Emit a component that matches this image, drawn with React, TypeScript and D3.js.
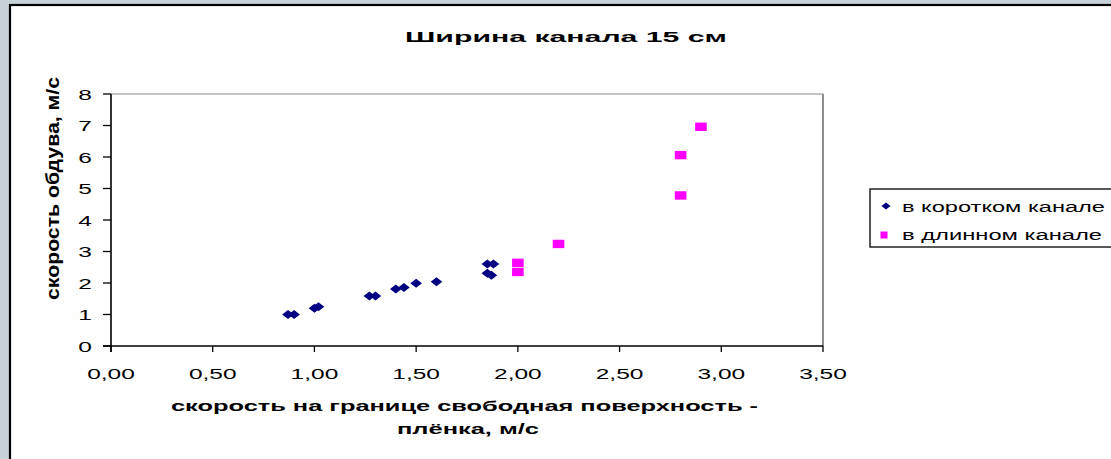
import React from "react";
import * as d3 from "d3";

const shortX = [0.87, 0.9, 1.0, 1.02, 1.27, 1.3, 1.4, 1.44, 1.5, 1.6, 1.85, 1.88, 1.85, 1.87];
const shortY = [1.0, 1.0, 1.2, 1.25, 1.59, 1.59, 1.81, 1.86, 1.99, 2.04, 2.6, 2.6, 2.31, 2.25];
const longX = [2.0, 2.0, 2.2, 2.8, 2.8, 2.9];
const longY = [2.64, 2.35, 3.24, 4.78, 6.06, 6.96];
const xTicks = [0, 0.5, 1, 1.5, 2, 2.5, 3, 3.5];
const yTicks = [0, 1, 2, 3, 4, 5, 6, 7, 8];
const seriesNames = ["в коротком канале", "в длинном канале"];
const title = "Ширина канала 15 см";
const xTitle1 = "скорость на границе свободная поверхность  -";
const xTitle2 = "плёнка, м/с";
const yTitle = "скорость обдува, м/с";

const W = 1111;
const H = 459;
const FONT = "'Liberation Sans', Arial, sans-serif";

function diamondPath(hw: number, hh: number) {
  const p = d3.path();
  p.moveTo(0, -hh);
  p.lineTo(hw, 0);
  p.lineTo(0, hh);
  p.lineTo(-hw, 0);
  p.closePath();
  return p.toString();
}

export default function App() {
  const x = d3.scaleLinear().domain([0, 3.5]).range([111, 823]);
  const y = d3.scaleLinear().domain([0, 8]).range([346, 94]);
  const dMark = diamondPath(5.8, 4.5);
  const dLeg = diamondPath(4.6, 3.5);
  const fmt = (v: number) => d3.format(".2f")(v).replace(".", ",");
  const SX = 1.58;

  return (
    <svg
      width={W}
      height={H}
      style={{ position: "absolute", left: 0, top: 0, display: "block" }}
      fontFamily={FONT}
    >
      <rect x={0} y={0} width={W} height={H} fill="#c7d1d8" />
      <rect x={10} y={5} width={W + 20} height={H + 20} fill="#ffffff" stroke="#000" strokeWidth={2.2} />
      <text
        x={405}
        y={42}
        fontSize={15.5}
        fontWeight="bold"
        fill="#000"
        textLength={322}
        lengthAdjust="spacingAndGlyphs"
      >
        {title}
      </text>
      {/* plot frame */}
      <line x1={x(0)} x2={x(3.5)} y1={y(8)} y2={y(8)} stroke="#8c8c8c" strokeWidth={1.2} />
      <line x1={x(3.5)} x2={x(3.5)} y1={y(8)} y2={y(0)} stroke="#8c8c8c" strokeWidth={2} />
      <line x1={x(0)} x2={x(0)} y1={y(8)} y2={y(0) + 6} stroke="#000" strokeWidth={1.6} />
      <line x1={x(0) - 8} x2={x(3.5)} y1={y(0)} y2={y(0)} stroke="#000" strokeWidth={1.6} />
      {yTicks.map((t) => (
        <g key={"y" + t}>
          <line x1={x(0) - 8} x2={x(0)} y1={y(t)} y2={y(t)} stroke="#000" strokeWidth={1.3} />
          <text
            transform={`translate(92,${y(t) + 5.6}) scale(${SX},1)`}
            textAnchor="end"
            fontSize={15.5}
            fill="#000"
          >
            {t}
          </text>
        </g>
      ))}
      {xTicks.map((t) => (
        <g key={"x" + t}>
          <line x1={x(t)} x2={x(t)} y1={y(0)} y2={y(0) + 6} stroke="#000" strokeWidth={1.3} />
          <text
            transform={`translate(${x(t)},378.5) scale(${SX},1)`}
            textAnchor="middle"
            fontSize={15.5}
            fill="#000"
          >
            {fmt(t)}
          </text>
        </g>
      ))}
      <text
        x={171}
        y={411}
        fontSize={14.5}
        fontWeight="bold"
        fill="#000"
        textLength={587}
        lengthAdjust="spacingAndGlyphs"
      >
        {xTitle1}
      </text>
      <text
        x={397}
        y={434}
        fontSize={14.5}
        fontWeight="bold"
        fill="#000"
        textLength={142}
        lengthAdjust="spacingAndGlyphs"
      >
        {xTitle2}
      </text>
      <text
        transform={`translate(59,300) rotate(-90)`}
        fontSize={18}
        fontWeight="bold"
        fill="#000"
        textLength={223}
        lengthAdjust="spacingAndGlyphs"
      >
        {yTitle}
      </text>
      {shortX.map((v, i) => (
        <path key={"s" + i} d={dMark} transform={`translate(${x(v)},${y(shortY[i])})`} fill="#000080" />
      ))}
      {longX.map((v, i) => (
        <rect key={"l" + i} x={x(v) - 5.8} y={y(longY[i]) - 4.2} width={11.6} height={8.4} fill="#ff00ff" />
      ))}
      {/* legend */}
      <rect x={870} y={189} width={260} height={58} fill="#fff" stroke="#000" strokeWidth={1.3} />
      <path d={dLeg} transform="translate(886,206)" fill="#000080" />
      <rect x={880.5} y={231.5} width={7} height={7} fill="#ff00ff" />
      <text
        x={902}
        y={212}
        fontSize={15.5}
        fill="#000"
        textLength={203}
        lengthAdjust="spacingAndGlyphs"
      >
        {seriesNames[0]}
      </text>
      <text
        x={902}
        y={240}
        fontSize={15.5}
        fill="#000"
        textLength={200}
        lengthAdjust="spacingAndGlyphs"
      >
        {seriesNames[1]}
      </text>
    </svg>
  );
}
